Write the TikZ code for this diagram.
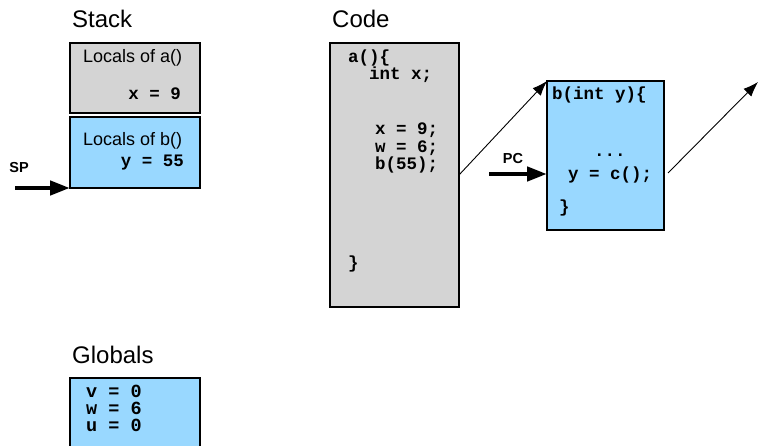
\documentclass[tikz,border=0pt]{standalone}
\usepackage{fontspec}
\setmainfont{Liberation Sans}
\setmonofont{Liberation Mono}
\usetikzlibrary{arrows.meta}

\definecolor{framegray}{RGB}{212,212,212}
\definecolor{frameblue}{RGB}{153,216,255}

\tikzset{
  frame/.style={draw=black, line width=2pt, anchor=north west, inner sep=0pt, outer sep=0pt},
  title/.style={anchor=base west, inner sep=0pt, font=\fontsize{24}{28}\selectfont},
  plain/.style={anchor=base west, inner sep=0pt, font=\fontsize{18}{20}\selectfont},
  code/.style={anchor=base west, inner sep=0pt, align=left,
    font=\fontsize{17.5}{17.5}\selectfont\ttfamily\bfseries},
  tag/.style={inner sep=0pt, font=\fontsize{14.5}{16}\selectfont\bfseries},
  pointer/.style={-{Triangle[length=20pt,width=14pt]}, line width=4.5pt},
  call/.style={-{Latex[length=15pt,width=11pt]}, line width=0.9pt}
}

\begin{document}
\begin{tikzpicture}[x=1pt,y=-1pt]
    \useasboundingbox (0,0) rectangle (759,446);
    % stack
    \node[title] (stacktitle) at (72,28) {Stack};
    \node[frame, fill=framegray, minimum width=130pt, minimum height=70pt] (framea) at (70,43) {};
    \node[frame, fill=frameblue, minimum width=130pt, minimum height=71pt] (frameb) at (70,117) {};
    \node[plain] (localsa) at (83,63) {Locals of a()};
    \node[code, anchor=base east] (xval) at (181,100) {x = 9};
    \node[plain] (localsb) at (83,146) {Locals of b()};
    \node[code, anchor=base east] (yval) at (184,167) {y = 55};
    \node[tag] (sp) at (19,168) {SP};
    \coordinate (spstart) at (15,188);
    \draw[pointer] (spstart) -- (frameb.south west);
    % code (multi-line nodes sit on their last line)
    \node[title] (codetitle) at (332,28) {Code};
    \node[frame, fill=framegray, minimum width=129pt, minimum height=264pt] (afun) at (330,43) {};
    \node[code] (ahead) at (348,80) {a()\{\\\ \ int x;};
    \node[code] (abody) at (375,170) {x = 9;\\w = 6;\\b(55);};
    \node[code] (aend) at (348,268) {\}};
    \node[frame, fill=frameblue, minimum width=117pt, minimum height=149pt] (bfun) at (547,81) {};
    \node[code] (bhead) at (552,100) {b(int y)\{};
    \node[code] (dots) at (594,157) {...};
    \node[code] (ycall) at (568,180) {y = c();};
    \node[code] (bend) at (559,212) {\}};
    \node[tag] (pc) at (513,159) {PC};
    \coordinate (pcstart) at (489,174);
    \draw[pointer] (pcstart) -- (bfun.west |- pcstart);
    \draw[call] (afun.east) -- (bfun.north west);
    \coordinate (ret) at (668,173);
    \coordinate (next) at (758,82);
    \draw[call] (ret) -- (next);
    % globals
    \node[title] (globtitle) at (72,363) {Globals};
    \node[frame, fill=frameblue, minimum width=130pt, minimum height=80pt] (globals) at (70,378) {};
    \node[code, font=\fontsize{18.5}{17}\selectfont\ttfamily\bfseries] (globvals) at (86,431) {v = 0\\w = 6\\u = 0};
\end{tikzpicture}
\end{document}
